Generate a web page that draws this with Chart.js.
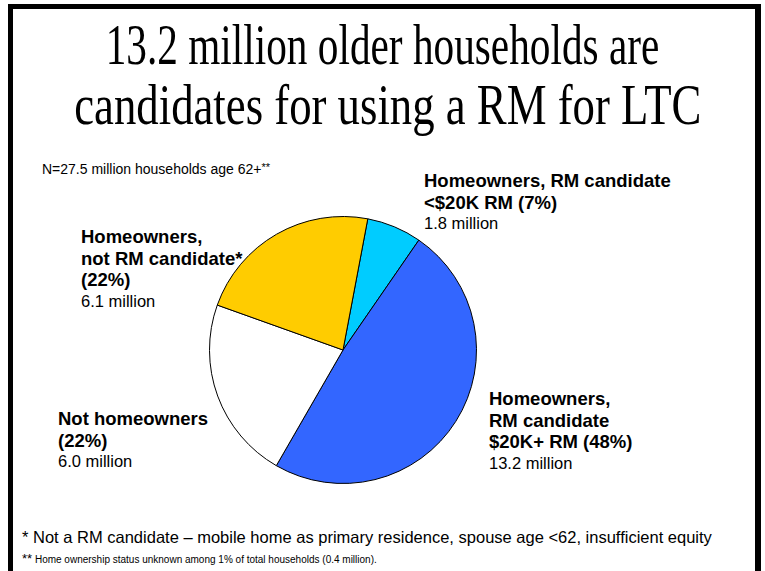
<!DOCTYPE html>
<html>
<head>
<meta charset="utf-8">
<script src="https://cdn.jsdelivr.net/npm/chart.js@4"></script>
<style>
  html, body { margin: 0; padding: 0; background: #fff; }
  body { width: 765px; height: 571px; position: relative; overflow: hidden; font-family: "Liberation Sans", Arial, sans-serif; color: #000; }
  .frame { position: absolute; left: 8px; top: 4px; width: 742px; height: 600px; border-left: 5px solid #000; border-top: 5px solid #000; border-right: 6px solid #000; }
  .tline { position: absolute; left: 0; width: 765px; text-align: center; font-family: "Liberation Serif", "Times New Roman", serif; font-size: 57px; line-height: 58px; white-space: nowrap; }
  .lbl { position: absolute; font-size: 18.5px; line-height: 21.7px; font-weight: bold; white-space: nowrap; }
  .lbl span { font-weight: normal; font-size: 16.5px; display: block; }
  .note { position: absolute; white-space: nowrap; }
  #pieWrap { position: absolute; left: 209px; top: 216px; width: 268px; height: 268px; }
</style>
</head>
<body>
<div class="frame"></div>
<div class="tline" style="top:16px; transform:scaleX(0.724);">13.2 million older households are</div>
<div class="tline" style="top:76px; transform:translateX(-8px) scaleX(0.785);">candidates for using a RM for LTC</div>
<div class="note" style="left:42px; top:157px; font-size:14px; line-height:20px;">N=27.5 million households age 62+<span style="font-size:11px; vertical-align:3px;">**</span></div>

<div class="lbl" style="left:424px; top:170px;">Homeowners, RM candidate<br>&lt;$20K RM (7%)<span>1.8 million</span></div>
<div class="lbl" style="left:81px; top:226px;">Homeowners,<br>not RM candidate*<br>(22%)<span>6.1 million</span></div>
<div class="lbl" style="left:58px; top:408px;">Not homeowners<br>(22%)<span>6.0 million</span></div>
<div class="lbl" style="left:489px; top:388px;">Homeowners,<br>RM candidate<br>$20K+ RM (48%)<span>13.2 million</span></div>

<div class="note" style="left:22px; top:527px; font-size:16.5px; line-height:20px;">* Not a RM candidate – mobile home as primary residence, spouse age &lt;62, insufficient equity</div>
<div class="note" style="left:22px; top:552px; font-size:10px; line-height:14px;"><span style="font-size:13px;">**</span> Home ownership status unknown among 1% of total households (0.4 million).</div>

<div id="pieWrap"><canvas id="pieChart"></canvas></div>

<script>
// --- Data (millions of households, clockwise from the top) ---
const categories = ['Homeowners, RM candidate <$20K RM', 'Homeowners, RM candidate $20K+ RM', 'Not homeowners', 'Homeowners, not RM candidate'];
const households = [1.8, 13.2, 6.0, 6.1];
const sliceColors = ['#00CCFF', '#3366FF', '#FFFFFF', '#FFCC00'];

window.onload = () => {
    new Chart(document.getElementById('pieChart'), {
        type: 'pie',
        data: {
            labels: categories,
            datasets: [{ data: households, backgroundColor: sliceColors, borderColor: '#000', borderWidth: 1, hoverOffset: 0 }]
        },
        options: {
            responsive: true,
            maintainAspectRatio: false,
            animation: false,
            rotation: 10.7,
            layout: { padding: 0 },
            plugins: { legend: { display: false }, tooltip: { enabled: false } }
        }
    });
};
</script>
</body>
</html>
